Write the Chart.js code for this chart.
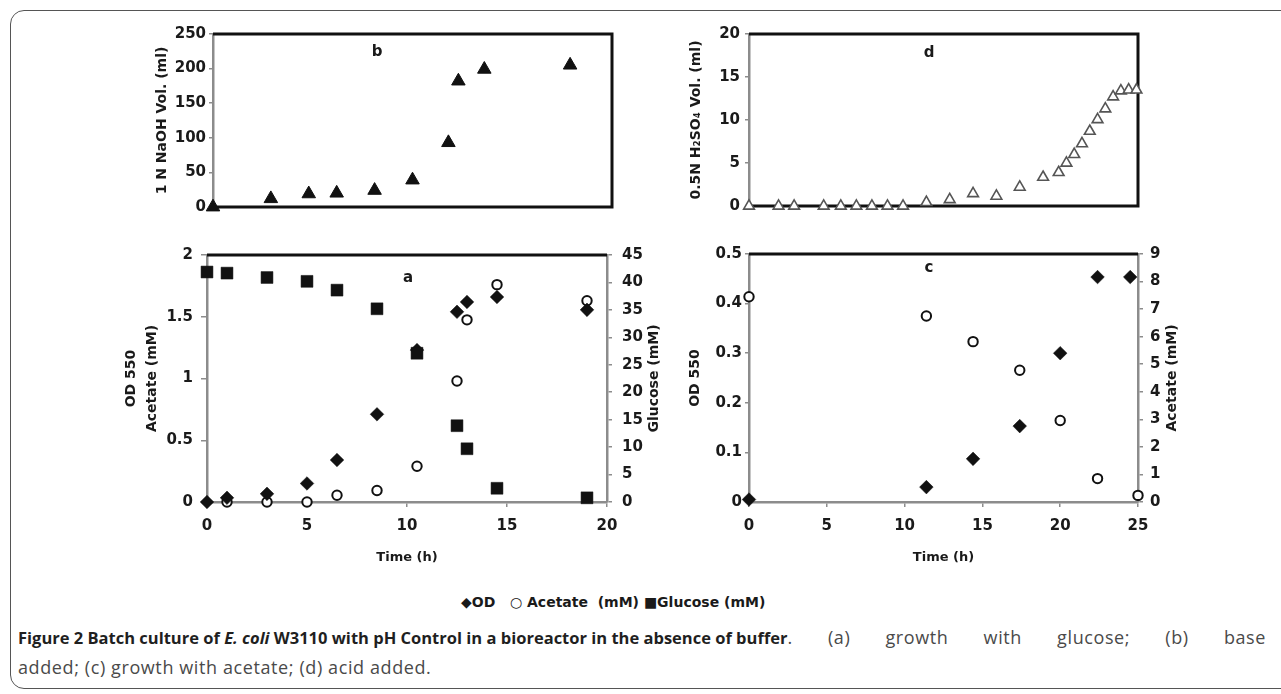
<!DOCTYPE html>
<html>
<head>
<meta charset="utf-8">
<script src="https://cdn.jsdelivr.net/npm/chart.js@4.4.1/dist/chart.umd.min.js"></script>
<style>
  html, body { margin: 0; padding: 0; background: #fff; }
  body { width: 1281px; height: 694px; overflow: hidden; position: relative; }
  #frame { position: absolute; left: 10px; top: 10px; width: 1300px; height: 677px;
           border: 1.5px solid #555; border-radius: 14px; }
  canvas { position: absolute; }
  #legend { position: absolute; left: 461px; top: 594px; white-space: pre;
            font: bold 14px 'DejaVu Sans', sans-serif; color: #1a1a1a; }
  .cap { position: absolute; left: 18px; width: 1248px; white-space: nowrap;
         font: 18px/30px 'Open Sans', sans-serif; color: #4a4a4a; }
  #cap1 { top: 622px; display: flex; align-items: baseline; }
  #cap1 b { color: #1f1f1f; flex: none; font-size: 16.5px; }
  #cap1 span { flex: 1; white-space: normal; text-align: justify; text-align-last: justify;
               letter-spacing: 0.6px; }
  #cap2 { top: 652px; letter-spacing: 0.6px; }
</style>
</head>
<body>
<div id="frame"></div>
<canvas id="chartB" width="540" height="200" style="left:100px;top:20px"></canvas>
<canvas id="chartD" width="540" height="200" style="left:640px;top:20px"></canvas>
<canvas id="chartA" width="640" height="340" style="left:60px;top:235px"></canvas>
<canvas id="chartC" width="600" height="340" style="left:640px;top:235px"></canvas>
<div id="legend">◆OD   ○ Acetate  (mM) ■Glucose (mM)</div>
<div class="cap" id="cap1"><b>Figure 2 Batch culture of <i>E. coli</i> W3110 with pH Control in a bioreactor in the absence of buffer</b><span>. (a) growth with glucose; (b) base</span></div>
<div class="cap" id="cap2">added; (c) growth with acetate; (d) acid added.</div>
<script>
// (b) base added
const hoursB = [0, 2.9, 4.8, 6.2, 8.1, 10, 11.8, 12.3, 13.6, 17.9];
const naohB = [0, 12, 19, 20, 24, 39, 93, 182, 199, 205];

// (d) acid added
const hoursD = [0, 1.9, 2.9, 4.8, 5.9, 6.9, 7.9, 8.9, 9.9, 11.4, 12.9, 14.4, 15.9,
                17.4, 18.9, 19.9, 20.4, 20.9, 21.4, 21.9, 22.4, 22.9, 23.4, 23.9, 24.4, 24.9];
const acidD = [0, 0, 0, 0, 0, 0, 0, 0, 0, 0.42, 0.75, 1.45, 1.15,
               2.2, 3.35, 3.9, 5.0, 6.0, 7.25, 8.7, 10.05, 11.3, 12.7, 13.4, 13.5, 13.5];

// (a) growth with glucose
const hoursA = [0, 1, 3, 5, 6.5, 8.5, 10.5, 12.5, 13, 14.5, 19];
const odA = [0, 0.034, 0.066, 0.15, 0.34, 0.71, 1.23, 1.54, 1.62, 1.66, 1.556];
const acetateA = [null, 0, 0, 0, 0.055, 0.093, 0.29, 0.98, 1.475, 1.76, 1.63];
const glucoseA = [41.9, 41.7, 40.9, 40.2, 38.6, 35.2, 27.1, 13.9, 9.7, 2.5, 0.76];

// (c) growth with acetate
const hoursOdC = [0, 11.4, 14.4, 17.4, 20, 22.4, 24.5];
const odC = [0.005, 0.03, 0.087, 0.153, 0.3, 0.4535, 0.4535];
const hoursAcC = [0, 11.4, 14.4, 17.4, 20, 22.4, 25];
const acetateC = [7.45, 6.75, 5.82, 4.78, 2.96, 0.85, 0.24];

const AXIS_GREY = '#8c8c8c';
const INK = '#1a1a1a';

Chart.defaults.font.family = "'DejaVu Sans', sans-serif";
Chart.defaults.font.weight = 'bold';
Chart.defaults.color = INK;

function pts(xs, ys) {
  return xs.map((x, i) => ({ x: x, y: ys[i] })).filter(p => p.y !== null);
}

// plain numbers like Excel: 0, 0.5, 1, 1.5, 2
const plainTick = v => String(+v.toFixed(3));

// y axis in Excel style: grey line, short outside ticks, fixed width
function valueAxis(pos, min, max, step, width, tickLen, pad, title) {
  return {
    type: 'linear', position: pos, min: min, max: max,
    ticks: { stepSize: step, padding: pad, autoSkip: false, font: { size: 15 }, callback: plainTick },
    grid: { drawOnChartArea: false, tickLength: tickLen, color: AXIS_GREY, lineWidth: 1.5 },
    border: { color: AXIS_GREY, width: 2.5 },
    title: title,
    afterFit: s => { s.width = width; }
  };
}

function timeAxis(max, show) {
  return {
    type: 'linear', min: 0, max: max, display: show,
    ticks: { stepSize: 5, padding: 10, font: { size: 15 }, callback: plainTick },
    grid: { drawOnChartArea: false, tickLength: 5, color: AXIS_GREY, lineWidth: 1.5 },
    border: { color: AXIS_GREY, width: 2.5 },
    title: { display: true, text: 'Time (h)', font: { size: 13 }, padding: { top: 0, bottom: 10 } },
    afterFit: s => { if (show) s.height = 73; }
  };
}

// black plot-area frame, panel letter, right-hand titles read bottom to top
const panelDecor = {
  id: 'panelDecor',
  beforeDatasetsDraw(chart, args, o) {
    const { ctx, chartArea: a } = chart;
    ctx.save();
    ctx.strokeStyle = '#111';
    ctx.lineWidth = 3;
    ctx.beginPath();
    ctx.moveTo(a.left, a.top);
    ctx.lineTo(a.right, a.top);
    if (o.closed) {
      ctx.lineTo(a.right, a.bottom);
      ctx.lineTo(a.left + 1, a.bottom);
    }
    ctx.stroke();
    ctx.restore();
  },
  afterDraw(chart, args, o) {
    const { ctx, chartArea: a } = chart;
    ctx.save();
    ctx.fillStyle = INK;
    ctx.textAlign = 'center';
    ctx.textBaseline = 'middle';
    ctx.font = "bold 15px 'DejaVu Sans', sans-serif";
    ctx.fillText(o.letter, a.left + o.letterDX, a.top + o.letterDY);
    if (o.sideTitle) {
      ctx.font = "bold 14px 'DejaVu Sans', sans-serif";
      ctx.translate(o.sideX, (a.top + a.bottom) / 2);
      ctx.rotate(-Math.PI / 2);
      ctx.fillText(o.sideTitle, 0, 0);
    }
    ctx.restore();
  }
};

const common = { responsive: false, animation: false, events: [] };

const blackTriangle = { pointStyle: 'triangle', pointRadius: 7.8, pointBackgroundColor: '#111',
                        pointBorderColor: '#111', pointBorderWidth: 1, clip: false };
const openTriangle = { pointStyle: 'triangle', pointRadius: 6.2, pointBackgroundColor: '#fff',
                       pointBorderColor: '#555', pointBorderWidth: 1.6, clip: false };
const diamond = { pointStyle: 'rectRot', pointRadius: 6.8, pointBackgroundColor: '#111',
                  pointBorderColor: '#111', pointBorderWidth: 0.5, clip: false };
const ring = { pointStyle: 'circle', pointRadius: 4.7, pointBackgroundColor: '#fff',
               pointBorderColor: '#111', pointBorderWidth: 2, clip: false };
const square = { pointStyle: 'rect', pointRadius: 8.4, pointBackgroundColor: '#111',
                 pointBorderColor: '#111', pointBorderWidth: 0.5, clip: false };

// (b)
new Chart(document.getElementById('chartB'), {
  type: 'scatter',
  data: { datasets: [Object.assign({ label: 'NaOH', data: pts(hoursB, naohB) }, blackTriangle)] },
  options: Object.assign({
    layout: { padding: { top: 14, right: 28, bottom: 13, left: 0 } },
    plugins: { legend: { display: false }, tooltip: { enabled: false },
               panelDecor: { closed: true, letter: 'b', letterDX: 164, letterDY: 18 } },
    scales: {
      x: timeAxis(20, false),
      y: valueAxis('left', 0, 250, 50, 113, 4, 3,
        { display: true, text: '1 N NaOH Vol. (ml)', font: { size: 14 }, padding: { top: 54, bottom: 0 } })
    }
  }, common),
  plugins: [panelDecor]
});

// (d)
new Chart(document.getElementById('chartD'), {
  type: 'scatter',
  data: { datasets: [Object.assign({ label: 'H2SO4', data: pts(hoursD, acidD) }, openTriangle)] },
  options: Object.assign({
    layout: { padding: { top: 14, right: 42, bottom: 12, left: 0 } },
    plugins: { legend: { display: false }, tooltip: { enabled: false },
               panelDecor: { closed: true, letter: 'd', letterDX: 180, letterDY: 19 } },
    scales: {
      x: timeAxis(25, false),
      y: valueAxis('left', 0, 20, 5, 109, 4, 5,
        { display: true, text: '0.5N H₂SO₄ Vol. (ml)', font: { size: 14 }, padding: { top: 48, bottom: 0 } })
    }
  }, common),
  plugins: [panelDecor]
});

// (a)
new Chart(document.getElementById('chartA'), {
  type: 'scatter',
  data: {
    datasets: [
      Object.assign({ label: 'Glucose (mM)', data: pts(hoursA, glucoseA), yAxisID: 'y2', order: 0 }, square),
      Object.assign({ label: 'OD', data: pts(hoursA, odA), yAxisID: 'y', order: 1 }, diamond),
      Object.assign({ label: 'Acetate (mM)', data: pts(hoursA, acetateA), yAxisID: 'y', order: 2 }, ring)
    ]
  },
  options: Object.assign({
    layout: { padding: { top: 20, right: 0, bottom: 0, left: 0 } },
    plugins: { legend: { display: false }, tooltip: { enabled: false },
               panelDecor: { closed: false, letter: 'a', letterDX: 201, letterDY: 23,
                             sideTitle: 'Glucose (mM)', sideX: 594 } },
    scales: {
      x: timeAxis(20, true),
      y: valueAxis('left', 0, 2, 0.5, 147, 6, 8,
        { display: true, text: ['OD 550', 'Acetate (mM)'], font: { size: 14, lineHeight: 1.5 },
          padding: { top: 61, bottom: 0 } }),
      y2: valueAxis('right', 0, 45, 5, 93, 5, 10, { display: false })
    }
  }, common),
  plugins: [panelDecor]
});

// (c)
new Chart(document.getElementById('chartC'), {
  type: 'scatter',
  data: {
    datasets: [
      Object.assign({ label: 'OD', data: pts(hoursOdC, odC), yAxisID: 'y', order: 0 }, diamond),
      Object.assign({ label: 'Acetate (mM)', data: pts(hoursAcC, acetateC), yAxisID: 'y2', order: 1 }, ring)
    ]
  },
  options: Object.assign({
    layout: { padding: { top: 19, right: 0, bottom: 0, left: 0 } },
    plugins: { legend: { display: false }, tooltip: { enabled: false },
               panelDecor: { closed: false, letter: 'c', letterDX: 180, letterDY: 14,
                             sideTitle: 'Acetate (mM)', sideX: 532 } },
    scales: {
      x: timeAxis(25, true),
      y: valueAxis('left', 0, 0.5, 0.1, 109, 4, 3,
        { display: true, text: 'OD 550', font: { size: 14 }, padding: { top: 47, bottom: 0 } }),
      y2: valueAxis('right', 0, 9, 1, 102, 5, 7, { display: false })
    }
  }, common),
  plugins: [panelDecor]
});
</script>
</body>
</html>
